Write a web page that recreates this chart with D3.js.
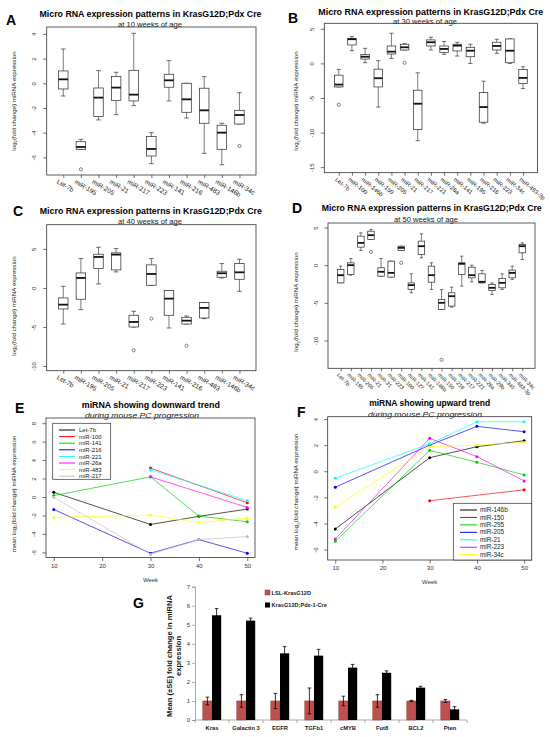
<!DOCTYPE html>
<html><head><meta charset="utf-8">
<script src="https://cdn.jsdelivr.net/npm/d3@7"></script>
<style>body{margin:0;background:#fff}svg{display:block}text{font-family:"Liberation Sans",Arial,Helvetica,sans-serif}</style>
</head><body><svg id="c" width="550" height="737"></svg>
<script>
// ---------- DATA ----------
// boxplot stats: [lowerWhisker, Q1, median, Q3, upperWhisker]
const labelsA = ["Let-7b","miR-195","miR-205","miR-21","miR-217","miR-223","miR-141","miR-216","miR-483","miR-146b","miR-34c"];
const statsA = [[-1.03,-0.46,0.32,1.0,2.78],[-5.35,-5.35,-5.16,-4.73,-4.54],[-2.97,-2.7,-1.16,-0.38,1.03],[-2.54,-1.38,-0.35,0.54,0.89],[-1.81,-1.43,-0.92,1.05,4.05],[-6.51,-5.89,-5.32,-4.32,-4.0],[-1.43,-0.32,0.24,0.73,1.84],[-2.81,-2.35,-1.3,0.0,0.0],[-5.68,-3.24,-2.19,-0.4,0.54],[-6.6,-5.35,-4.0,-3.4,-3.24],[-3.3,-3.3,-2.57,-2.19,-0.76]];
const outliersA = [[2,-6.97],[11,-5.08]];
const ticksA = [-6,-4,-2,0,2,4];

const labelsB = ["Let-7b","miR-100","miR-146b","miR-150","miR-205","miR-21","miR-217","miR-221","miR-26a","miR-141","miR-195","miR-216","miR-223","miR-34c","miR-483-3p"];
const statsB = [[-3.4,-3.4,-3.06,-1.7,-0.87],[1.84,2.67,3.5,3.59,3.88],[0.1,0.63,0.97,1.31,2.18],[-6.31,-3.4,-2.14,-0.83,0.39],[0.73,1.36,1.7,2.52,4.37],[1.94,1.94,2.33,2.77,2.86],[-11.17,-9.56,-5.83,-3.88,-1.36],[1.94,2.52,3.06,3.4,3.79],[1.31,1.6,2.09,2.52,3.16],[1.07,1.8,2.57,2.77,3.06],[0.0,0.97,1.84,2.33,2.77],[-8.64,-8.5,-6.31,-4.22,-2.57],[1.46,1.94,2.52,3.06,3.5],[0.0,0.1,1.84,3.54,3.54],[-3.64,-2.91,-2.09,-0.87,-0.49]];
const outliersB = [[1,-5.97],[6,0.1]];
const ticksB = [-15,-10,-5,0,5];

const labelsC = ["Let-7b","miR-195","miR-205","miR-21","miR-217","miR-223","miR-141","miR-216","miR-483","miR-146b","miR-34c"];
const statsC = [[-4.62,-2.69,-2.14,-1.28,0.21],[-2.78,-1.45,1.28,1.92,3.76],[0.51,2.48,3.97,4.32,5.21],[2.05,2.31,4.27,4.49,5.04],[-5.0,-5.0,-4.36,-3.5,-2.99],[0.34,0.34,1.79,2.95,3.76],[-5.13,-3.5,-1.37,-0.34,-0.34],[-4.62,-4.62,-4.19,-3.76,-3.59],[-3.93,-3.85,-2.56,-1.88,-1.88],[1.28,1.37,1.88,2.14,3.12],[-0.43,1.11,2.0,3.12,3.68]];
const outliersC = [[5,-7.99],[6,-3.93],[8,-7.4]];
const ticksC = [-10,-5,0,5];

const labelsD = ["Let-7b","miR-195","miR-205","miR-21","miR-31","miR-223","miR-100","miR-127","miR-141","miR-146b","miR-150","miR-216","miR-217","miR-221","miR-26a","miR-29b","miR-345","miR-483-3p","miR-34c"];
const statsD = [[-2.35,-2.35,-1.33,-0.58,-0.13],[-1.33,-1.24,0.0,0.31,0.88],[1.95,2.39,2.96,3.85,4.29],[3.41,3.41,3.98,4.51,4.73],[-1.46,-1.46,-0.88,-0.35,0.88],[-1.59,-1.59,-1.02,0.53,0.53],[1.95,1.95,2.3,2.52,2.52],[-3.67,-3.23,-2.65,-2.35,-1.15],[0.97,1.42,2.52,3.19,4.16],[-3.23,-2.26,-1.33,-0.13,0.31],[-5.88,-5.88,-5.0,-4.56,-3.23],[-5.58,-5.44,-4.12,-3.67,-2.92],[-2.79,-1.24,0.18,0.31,1.19],[-2.21,-1.68,-1.33,-0.27,0.0],[-2.35,-2.35,-2.21,-1.15,-0.71],[-3.89,-3.36,-3.01,-2.57,-2.35],[-3.23,-3.01,-2.35,-1.77,-1.15],[-1.9,-1.68,-1.02,-0.66,-0.13],[0.75,1.64,2.52,2.74,2.96]];
const outliersD = [[4,1.77],[7,0.31],[11,-12.57]];
const ticksD = [-10,-5,0,5];

const weeks = [10,30,40,50];
const weekTicks = [10,20,30,40,50];
const namesE = ["Let-7b","miR-100","miR-141","miR-216","miR-221","miR-26a","miR-483","miR-217"];
const colorsE = ["#000000","#ff0000","#00cd00","#0000ff","#00ffff","#ff00ff","#ffff00","#bebebe"];
const valuesE = [[0.51,-2.98,-2.1,-1.31],[null,3.13,null,-0.62],[0.15,2.18,-2.07,-2.69],[-1.35,-6.1,-4.62,-6.1],[null,2.95,null,-0.4],[null,2.18,null,-1.13],[-2.22,-1.96,-2.76,-2.29],[-0.04,-6.2,-4.62,-4.29]];
const ticksE = [-6,-4,-2,0,2,4,6,8];

const namesF = ["miR-146b","miR-150","miR-295","miR-205","miR-21","miR-223","miR-34c"];
const colorsF = ["#000000","#ff0000","#00cd00","#0000ff","#00ffff","#ff00ff","#ffff00"];
const valuesF = [[-4.43,1.04,1.88,2.34],[null,-2.26,null,-1.42],[-5.37,1.6,0.69,-0.28],[-1.22,2.0,3.44,3.03],[-0.53,2.1,3.79,3.79],[-5.19,2.52,1.12,-0.74],[-2.75,1.88,2.01,2.21]];
const ticksF = [-6,-4,-2,0,2,4];

const catsG = ["Kras","Galactin 3","EGFR","TGFb1","cMYB","Fut8","BCL2","Pten"];
const lslG = [1,1,1,1,1,1,1,1];
const lslSeG = [0.2,0.33,0.4,0.68,0.25,0.33,0.03,0.08];
const creG = [5.5,5.22,3.5,3.38,2.75,2.48,1.7,0.56];
const creSeG = [0.35,0.13,0.35,0.33,0.17,0.1,0.07,0.14];
const ticksG = [0,1,2,3,4,5,6,7];
const seriesG = ["LSL-KrasG12D","KrasG12D;Pdx-1-Cre"];

// ---------- DRAW ----------
const svg = d3.select("#c");
const INK = "#1a1a1a";

function txt(x,y,s,o={}){
  const t = svg.append("text").attr("x",x).attr("y",y).text(s)
    .attr("font-size",o.size||7).attr("text-anchor",o.anchor||"middle").attr("fill",o.fill||INK);
  if(o.bold) t.attr("font-weight","bold");
  if(o.italic) t.attr("font-style","italic");
  if(o.len) t.attr("textLength",o.len).attr("lengthAdjust","spacingAndGlyphs");
  if(o.rot) t.attr("transform",`rotate(${o.rot},${x},${y})`);
  return t;
}
function yLab(x,y,mean){
  const t = svg.append("text").attr("transform",`translate(${x},${y}) rotate(-90)`)
    .attr("text-anchor","middle").attr("font-size",6.2).attr("fill",INK);
  t.append("tspan").text((mean?"mean ":"")+"log");
  t.append("tspan").text("2").attr("font-size",4.3).attr("dy",1.5);
  t.append("tspan").text("(fold change) miRNA expression").attr("dy",-1.5);
}
function styleYAxis(ay,off){
  ay.select(".domain").remove();
  ay.attr("font-size",6).attr("font-family",null);
  ay.selectAll("line").attr("stroke","#333").attr("stroke-width",0.7);
  ay.selectAll("text").attr("x",0).attr("y",-off).attr("dy",0).attr("transform","rotate(-90)")
    .attr("text-anchor","middle").attr("fill","#333");
}

function boxPanel(c){
  const n = c.labels.length;
  const x = d3.scaleLinear().domain([0.5-0.04*n, n+0.5+0.04*n]).range([c.left,c.right]);
  const y = d3.scaleLinear().domain(c.yDomain).range([c.bottom,c.top]);
  const g = svg.append("g");
  const ay = g.append("g").attr("transform",`translate(${c.left},0)`)
    .call(d3.axisLeft(y).tickValues(c.yTicks).tickSize(3.5).tickFormat(d=>String(d)));
  styleYAxis(ay,10.5);
  const ax = g.append("g").attr("transform",`translate(0,${c.bottom})`)
    .call(d3.axisBottom(x).tickValues(d3.range(1,n+1)).tickSize(3).tickFormat(""));
  ax.select(".domain").remove();
  ax.selectAll("line").attr("stroke","#333").attr("stroke-width",0.7);
  c.labels.forEach((l,i)=>{
    const px = x(i+1)+c.lx, py = c.bottom+c.ly;
    g.append("text").attr("x",px).attr("y",py).attr("transform",`rotate(${c.rot},${px},${py})`)
      .attr("font-size",c.lsize).attr("fill",INK).text(l);
  });
  g.append("rect").attr("x",c.left).attr("y",c.top).attr("width",c.right-c.left).attr("height",c.bottom-c.top)
    .attr("fill","none").attr("stroke","#333").attr("stroke-width",0.8);
  const w = c.boxW;
  c.stats.forEach((s,i)=>{
    const cx = x(i+1);
    const [lo,q1,md,q3,hi] = s;
    g.append("line").attr("x1",cx).attr("x2",cx).attr("y1",y(hi)).attr("y2",y(q3)).attr("stroke","#444").attr("stroke-width",0.7);
    g.append("line").attr("x1",cx).attr("x2",cx).attr("y1",y(q1)).attr("y2",y(lo)).attr("stroke","#444").attr("stroke-width",0.7);
    g.append("line").attr("x1",cx-w/4).attr("x2",cx+w/4).attr("y1",y(hi)).attr("y2",y(hi)).attr("stroke","#333").attr("stroke-width",0.7);
    g.append("line").attr("x1",cx-w/4).attr("x2",cx+w/4).attr("y1",y(lo)).attr("y2",y(lo)).attr("stroke","#333").attr("stroke-width",0.7);
    g.append("rect").attr("x",cx-w/2).attr("y",y(q3)).attr("width",w).attr("height",Math.max(0.5,y(q1)-y(q3)))
      .attr("fill","#fff").attr("stroke","#333").attr("stroke-width",0.75);
    g.append("line").attr("x1",cx-w/2).attr("x2",cx+w/2).attr("y1",y(md)).attr("y2",y(md)).attr("stroke","#111").attr("stroke-width",1.8);
  });
  c.outliers.forEach(([i,v])=>{
    g.append("circle").attr("cx",x(i)).attr("cy",y(v)).attr("r",1.6).attr("fill","none").attr("stroke","#333").attr("stroke-width",0.6);
  });
}

function linePanel(c){
  const x = d3.scaleLinear().domain([8.4,51.6]).range([c.left,c.right]);
  const y = d3.scaleLinear().domain(c.yDomain).range([c.bottom,c.top]);
  const g = svg.append("g");
  const ay = g.append("g").attr("transform",`translate(${c.left},0)`)
    .call(d3.axisLeft(y).tickValues(c.yTicks).tickSize(3.5).tickFormat(d=>String(d)));
  styleYAxis(ay,10);
  const ax = g.append("g").attr("transform",`translate(0,${c.bottom})`)
    .call(d3.axisBottom(x).tickValues(weekTicks).tickSize(3.5).tickFormat(d=>String(d)));
  ax.select(".domain").remove();
  ax.attr("font-size",6).attr("font-family",null);
  ax.selectAll("line").attr("stroke","#333").attr("stroke-width",0.7);
  ax.selectAll("text").attr("y",6).attr("dy","0.71em").attr("fill","#333");
  txt((c.left+c.right)/2, c.bottom+24, "Week", {size:6,fill:"#333"});
  const line = d3.line().x(d=>x(d[0])).y(d=>y(d[1]));
  c.values.forEach((vals,k)=>{
    const pts = weeks.map((w,i)=>[w,vals[i]]).filter(d=>d[1]!==null);
    g.append("path").attr("d",line(pts)).attr("fill","none").attr("stroke",c.colors[k]).attr("stroke-width",0.8).attr("opacity",0.85);
    pts.forEach(p=>g.append("circle").attr("cx",x(p[0])).attr("cy",y(p[1])).attr("r",1.5).attr("fill",c.colors[k]));
  });
  g.append("rect").attr("x",c.left).attr("y",c.top).attr("width",c.right-c.left).attr("height",c.bottom-c.top)
    .attr("fill","none").attr("stroke","#333").attr("stroke-width",0.8);
  // legend
  const L = c.legend;
  g.append("rect").attr("x",L.x0).attr("y",L.y0).attr("width",L.x1-L.x0).attr("height",L.y1-L.y0)
    .attr("fill","#fff").attr("stroke","#333").attr("stroke-width",0.7);
  c.names.forEach((nm,k)=>{
    const yy = L.r0 + k*L.dr;
    g.append("line").attr("x1",L.lx0).attr("x2",L.lx1).attr("y1",yy).attr("y2",yy).attr("stroke",c.colors[k]).attr("stroke-width",1);
    g.append("text").attr("x",L.tx).attr("y",yy+2.1).attr("font-size",L.size).attr("fill",INK).text(nm);
  });
}

// Panel letters
[["A",6,25],["B",288,23],["C",13,216],["D",292,213],["E",15,413],["F",297,417],["G",133,608]].forEach(([l,x,y])=>
  txt(x,y,l,{size:14,bold:true,anchor:"start",fill:"#000"}));

const mainTitle = "Micro RNA expression patterns in KrasG12D;Pdx Cre";
// A
txt(150.5,17.3,mainTitle,{size:8.6,bold:true,len:222,fill:"#000"});
txt(150,27.3,"at 10 weeks of age",{size:6.3,len:64});
yLab(15.5,101,false);
boxPanel({labels:labelsA,stats:statsA,outliers:outliersA,yTicks:ticksA,yDomain:[-7.43,4.56],
  left:46.7,right:256,top:27,bottom:175,boxW:9.5,rot:30,lx:-7,ly:8,lsize:6.5});
// B
txt(430.8,14.8,mainTitle,{size:8.6,bold:true,len:225,fill:"#000"});
txt(425,23.5,"at 30 weeks of age",{size:6.3,len:64});
yLab(298,101,false);
boxPanel({labels:labelsB,stats:statsB,outliers:outliersB,yTicks:ticksB,yDomain:[-15.8,5.8],
  left:324.3,right:537.5,top:23.3,bottom:172.7,boxW:8.5,rot:40,lx:-4,ly:7.5,lsize:6});
// C
txt(150.8,214.3,mainTitle,{size:8.6,bold:true,len:222,fill:"#000"});
txt(150,224,"at 40 weeks of age",{size:6.3,len:64});
yLab(15.5,306,false);
boxPanel({labels:labelsC,stats:statsC,outliers:outliersC,yTicks:ticksC,yDomain:[-10.6,8.1],
  left:46.7,right:256,top:224.7,bottom:370.7,boxW:9.5,rot:30,lx:-7,ly:8,lsize:6.5});
// D
txt(431.7,211.3,mainTitle,{size:8.6,bold:true,len:220,fill:"#000"});
txt(426,221.5,"at 50 weeks of age",{size:6.3,len:64});
yLab(298,302,false);
boxPanel({labels:labelsD,stats:statsD,outliers:outliersD,yTicks:ticksD,yDomain:[-13.7,5.6],
  left:328,right:535,top:223,bottom:368.3,boxW:6.5,rot:45,lx:-4,ly:7,lsize:5.5});

// E
txt(150.8,407.7,"miRNA showing downward trend",{size:8.8,bold:true,len:138,fill:"#000"});
txt(142,417.5,"during mouse PC progression",{size:6.3,italic:true,len:114});
yLab(15.5,494,true);
linePanel({names:namesE,colors:colorsE,values:valuesE,yTicks:ticksE,yDomain:[-6.56,8.56],
  left:46,right:255,top:418,bottom:557.5,
  legend:{x0:52.7,x1:110.7,y0:423.3,y1:479.3,lx0:59,lx1:75,tx:79,r0:430,dr:6.6,size:6}});
// F
txt(429.7,405.9,"miRNA showing upward trend",{size:8.8,bold:true,len:121,fill:"#000"});
txt(425,416.5,"during mouse PC progression",{size:6.3,italic:true,len:114});
yLab(298,492,true);
linePanel({names:namesF,colors:colorsF,values:valuesF,yTicks:ticksF,yDomain:[-6.8,4.18],
  left:327.7,right:531.7,top:416.7,bottom:560,
  legend:{x0:453.3,x1:531.7,y0:503.3,y1:560,lx0:460,lx1:477,tx:480,r0:510,dr:7.45,size:6.4}});

// G
(function(){
  const left=195, right=467, top=586.7, bottom=720;
  const x = d3.scaleBand().domain(catsG).range([left,right]).padding(0);
  const y = d3.scaleLinear().domain([0,7]).range([bottom,top]);
  const g = svg.append("g");
  const ay = g.append("g").attr("transform",`translate(${left},0)`).call(d3.axisLeft(y).tickValues(ticksG).tickSize(3).tickFormat(d=>String(d)));
  ay.attr("font-size",6).attr("font-family",null);
  ay.select(".domain").attr("stroke","#888").attr("stroke-width",0.7);
  ay.selectAll("line").attr("stroke","#888").attr("stroke-width",0.7);
  ay.selectAll("text").attr("x",-5).attr("fill","#333");
  g.append("line").attr("x1",left).attr("x2",right).attr("y1",bottom).attr("y2",bottom).attr("stroke","#888").attr("stroke-width",0.7);
  catsG.concat([null]).forEach((c,i)=>{
    const xx = left + i*x.bandwidth();
    g.append("line").attr("x1",xx).attr("x2",xx).attr("y1",bottom).attr("y2",bottom+3).attr("stroke","#888").attr("stroke-width",0.7);
  });
  const bw = 9.2;
  catsG.forEach((c,i)=>{
    const cx = x(c)+x.bandwidth()/2;
    g.append("rect").attr("x",cx-bw).attr("y",y(lslG[i])).attr("width",bw).attr("height",y(0)-y(lslG[i]))
      .attr("fill","#c0504d").attr("stroke","#8e3a38").attr("stroke-width",0.5);
    g.append("rect").attr("x",cx).attr("y",y(creG[i])).attr("width",bw).attr("height",y(0)-y(creG[i]))
      .attr("fill","#000");
    [[cx-bw/2,lslG[i],lslSeG[i]],[cx+bw/2,creG[i],creSeG[i]]].forEach(([ex,v,se])=>{
      g.append("line").attr("x1",ex).attr("x2",ex).attr("y1",y(v+se)).attr("y2",y(v-se)).attr("stroke","#000").attr("stroke-width",0.8);
      g.append("line").attr("x1",ex-1.8).attr("x2",ex+1.8).attr("y1",y(v+se)).attr("y2",y(v+se)).attr("stroke","#000").attr("stroke-width",0.8);
      g.append("line").attr("x1",ex-1.8).attr("x2",ex+1.8).attr("y1",y(v-se)).attr("y2",y(v-se)).attr("stroke","#000").attr("stroke-width",0.8);
    });
    g.append("text").attr("x",cx).attr("y",730).attr("text-anchor","middle").attr("font-size",5.8).attr("font-weight","bold").attr("fill",INK).text(c);
  });
  // legend
  g.append("rect").attr("x",265).attr("y",590).attr("width",5).attr("height",5).attr("fill","#c0504d").attr("stroke","#8e3a38").attr("stroke-width",0.5);
  g.append("text").attr("x",271.5).attr("y",594.8).attr("font-size",5.6).attr("font-weight","bold").attr("fill",INK).text(seriesG[0]);
  g.append("rect").attr("x",265).attr("y",602.5).attr("width",5).attr("height",5).attr("fill","#000");
  g.append("text").attr("x",271.5).attr("y",607.3).attr("font-size",5.6).attr("font-weight","bold").attr("fill",INK).text(seriesG[1]);
  // axis title
  const t = svg.append("text").attr("transform","translate(172,656) rotate(-90)").attr("text-anchor","middle")
    .attr("font-size",7.6).attr("font-weight","bold").attr("fill",INK);
  t.append("tspan").attr("x",0).attr("dy",0).text("Mean (\u00B1SE) fold change in miRNA");
  t.append("tspan").attr("x",0).attr("dy",8.5).text("expression");
})();
</script></body></html>
